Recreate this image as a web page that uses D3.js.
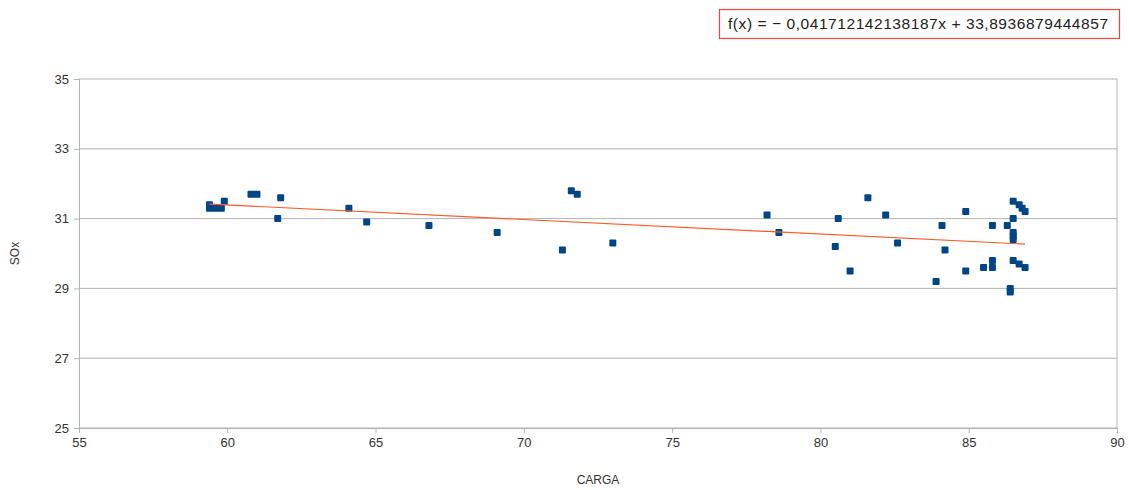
<!DOCTYPE html>
<html>
<head>
<meta charset="utf-8">
<script src="https://cdn.jsdelivr.net/npm/d3@7"></script>
<style>
  html, body { margin: 0; padding: 0; background: #fff; }
  svg { display: block; font-family: "Liberation Sans", Arial, sans-serif; }
</style>
</head>
<body>
<svg id="chart" width="1129" height="490"></svg>
<script>
// CARGA (load) vs SOx readings
const carga = [
  59.4, 59.4, 59.6, 59.8, 59.9, 60.8, 61.0, 61.8, 61.7, 64.1, 64.7, 66.8, 69.1,
  71.6, 71.8, 71.3, 73.0,
  78.2, 78.6, 80.6, 80.5, 81.0, 81.6, 82.2, 82.6, 84.1, 84.2, 83.9,
  84.9, 84.9, 85.8, 85.5, 85.8, 85.8, 86.3, 86.4, 86.4,
  86.5, 86.7, 86.8, 86.9, 86.5, 86.5, 86.5, 86.5, 86.5, 86.7, 86.9
];
const sox = [
  31.4, 31.3, 31.3, 31.3, 31.5, 31.7, 31.7, 31.6, 31.0, 31.3, 30.9, 30.8, 30.6,
  31.8, 31.7, 30.1, 30.3,
  31.1, 30.6, 31.0, 30.2, 29.5, 31.6, 31.1, 30.3, 30.8, 30.1, 29.2,
  31.2, 29.5, 30.8, 29.6, 29.8, 29.6, 30.8, 29.0, 28.9,
  31.5, 31.4, 31.3, 31.2, 31.0, 30.6, 30.5, 30.4, 29.8, 29.7, 29.6
];

// Linear trend line coefficients
const slope = -0.041712142138187;
const intercept = 33.8936879444857;
const equationText = "f(x) = \u2212 0,041712142138187x + 33,8936879444857";

const xTicks = [55, 60, 65, 70, 75, 80, 85, 90];
const yTicks = [25, 27, 29, 31, 33, 35];
const xTitle = "CARGA";
const yTitle = "SOx";

const svg = d3.select("#chart");
const plotLeft = 79, plotRight = 1117, plotTop = 79, plotBottom = 428;

const x = d3.scaleLinear().domain([55, 90]).range([plotLeft, plotRight]);
const y = d3.scaleLinear().domain([25, 35]).range([plotBottom, plotTop]);

const gridColor = "#b3b3b3";

// horizontal grid lines
svg.append("g")
  .selectAll("line")
  .data(yTicks)
  .join("line")
  .attr("x1", plotLeft).attr("x2", plotRight)
  .attr("y1", d => y(d)).attr("y2", d => y(d))
  .attr("stroke", gridColor).attr("stroke-width", 1);

// right border of the plot area
svg.append("line")
  .attr("x1", plotRight).attr("x2", plotRight)
  .attr("y1", plotTop).attr("y2", plotBottom)
  .attr("stroke", gridColor);

// x axis
const xAxis = svg.append("g")
  .attr("transform", `translate(0,${plotBottom})`)
  .call(d3.axisBottom(x).tickValues(xTicks).tickSize(5).tickPadding(5).tickFormat(d3.format("d")));
// y axis
const yAxis = svg.append("g")
  .attr("transform", `translate(${plotLeft},0)`)
  .call(d3.axisLeft(y).tickValues(yTicks).tickSize(5).tickPadding(5).tickFormat(d3.format("d")));

[xAxis, yAxis].forEach(g => {
  g.select(".domain").attr("stroke", gridColor);
  g.selectAll(".tick line").attr("stroke", gridColor);
  g.selectAll(".tick text")
    .attr("fill", "#333")
    .style("font-size", "13px")
    .style("font-family", "'Liberation Sans', Arial, sans-serif");
});

// axis titles
svg.append("text")
  .attr("x", (plotLeft + plotRight) / 2).attr("y", 484)
  .attr("text-anchor", "middle")
  .attr("fill", "#333")
  .style("font-size", "12px")
  .text(xTitle);

svg.append("text")
  .attr("transform", `translate(19,${(plotTop + plotBottom) / 2}) rotate(-90)`)
  .attr("text-anchor", "middle")
  .attr("fill", "#333")
  .style("font-size", "12px")
  .text(yTitle);

// data points
const points = carga.map((c, i) => ({ c, s: sox[i] }));
svg.append("g")
  .selectAll("rect")
  .data(points)
  .join("rect")
  .attr("x", d => x(d.c) - 3.5)
  .attr("y", d => y(d.s) - 3.5)
  .attr("width", 7).attr("height", 7)
  .attr("rx", 1)
  .attr("fill", "#004586");

// trend line across the data range
const [xmin, xmax] = d3.extent(carga);
svg.append("line")
  .attr("x1", x(xmin)).attr("y1", y(slope * xmin + intercept))
  .attr("x2", x(xmax)).attr("y2", y(slope * xmax + intercept))
  .attr("stroke", "#ff5a2a").attr("stroke-width", 1.2);

// equation box
svg.append("rect")
  .attr("x", 719.5).attr("y", 9.5)
  .attr("width", 400).attr("height", 29)
  .attr("fill", "#fff")
  .attr("stroke", "#ee4444").attr("stroke-width", 1.2);

svg.append("text")
  .attr("x", 728).attr("y", 29)
  .attr("fill", "#222")
  .attr("textLength", 380)
  .attr("lengthAdjust", "spacing")
  .style("font-size", "15.5px")
  .text(equationText);
</script>
</body>
</html>
